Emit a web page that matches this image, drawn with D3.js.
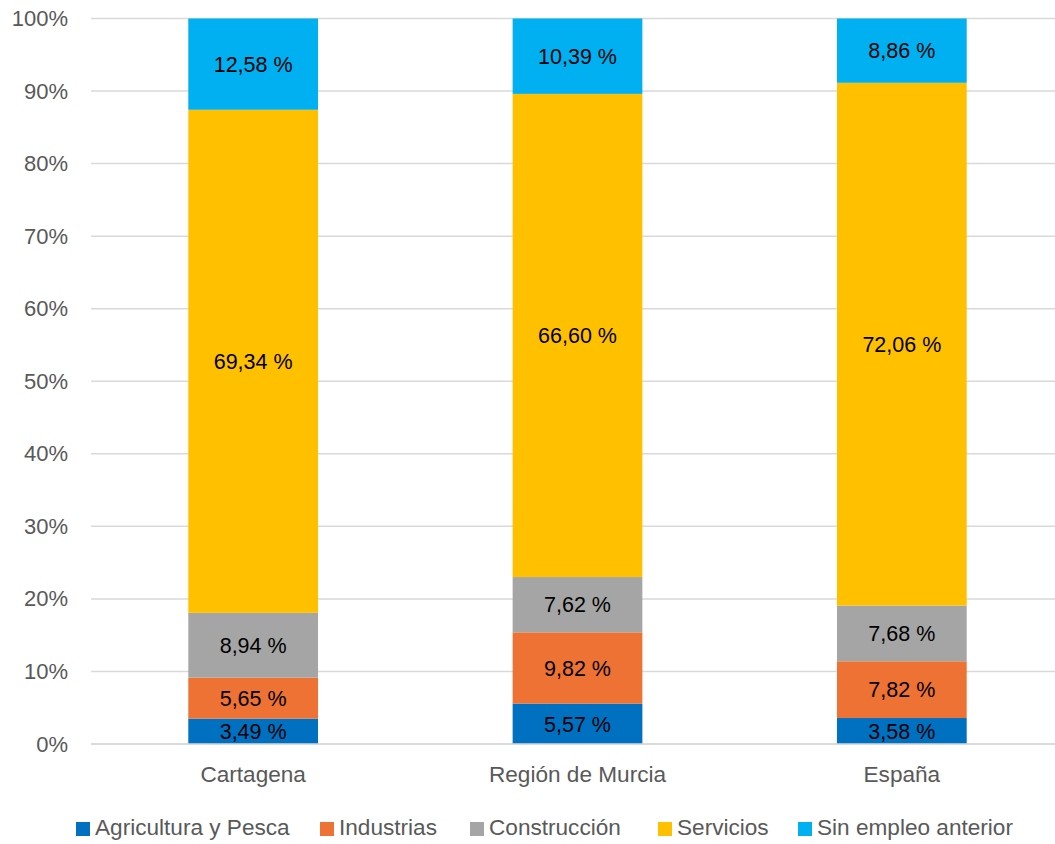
<!DOCTYPE html>
<html><head><meta charset="utf-8">
<script src="https://cdn.jsdelivr.net/npm/d3@7"></script>
<style>body{margin:0;background:#fff}svg{display:block;font-family:"Liberation Sans",Arial,sans-serif}</style>
</head><body><svg id="c" width="1055" height="844"></svg>
<script>
const categories = ["Cartagena", "Región de Murcia", "España"];
const seriesNames = ["Agricultura y Pesca", "Industrias", "Construcción", "Servicios", "Sin empleo anterior"];
const agricultura = [3.49, 5.57, 3.58];
const industrias = [5.65, 9.82, 7.82];
const construccion = [8.94, 7.62, 7.68];
const servicios = [69.34, 66.60, 72.06];
const sinEmpleo = [12.58, 10.39, 8.86];
const colors = ["#0070C0", "#ED7233", "#A5A5A5", "#FFC000", "#00B0F0"];
const yTicks = [0,10,20,30,40,50,60,70,80,90,100];

const values = [agricultura, industrias, construccion, servicios, sinEmpleo];
const rows = categories.map((c,i)=>{const o={cat:c}; seriesNames.forEach((s,j)=>o[s]=values[j][i]); return o;});
const stack = d3.stack().keys(seriesNames)(rows);

const FS = "21.5px";
const FS2 = "22.6px";
const svg = d3.select("#c");
const x = d3.scaleBand().domain(categories).range([91,1064]).paddingInner(0.6).paddingOuter(0.3);
const y = d3.scaleLinear().domain([0,100]).range([744,18.5]);

// gridlines
svg.append("g").selectAll("line").data(yTicks).join("line")
  .attr("x1",91).attr("x2",1055).attr("y1",d=>y(d)).attr("y2",d=>y(d))
  .attr("stroke","#d9d9d9").attr("stroke-width",1.5);

// y axis
const yAxis = d3.axisLeft(y).tickValues(yTicks).tickFormat(d=>d+"%").tickSize(0).tickPadding(0);
const ya = svg.append("g").attr("transform","translate(68,0)").call(yAxis);
ya.select(".domain").remove();
ya.selectAll("text").attr("fill","#595959").style("font-size","22px").style("font-family","inherit");

// bars
const fmt = v => v.toFixed(2).replace(".",",") + " %";
stack.forEach((layer,j)=>{
  const g = svg.append("g");
  g.selectAll("rect").data(layer).join("rect")
    .attr("x",d=>x(d.data.cat)).attr("width",x.bandwidth())
    .attr("y",d=>y(d[1])).attr("height",d=>y(d[0])-y(d[1]))
    .attr("fill",colors[j]);
  g.selectAll("text").data(layer).join("text")
    .attr("x",d=>x(d.data.cat)+x.bandwidth()/2)
    .attr("y",d=>(y(d[0])+y(d[1]))/2)
    .attr("dy","0.36em").attr("text-anchor","middle")
    .attr("fill","#000").style("font-size",FS)
    .text(d=>fmt(d[1]-d[0]));
});

// x axis line
svg.append("line").attr("x1",91).attr("x2",1055).attr("y1",y(0)).attr("y2",y(0)).attr("stroke","#d9d9d9").attr("stroke-width",1.5);
const xAxis = d3.axisBottom(x).tickSize(0).tickPadding(0);
const xa = svg.append("g").attr("transform","translate(0,782)").call(xAxis);
xa.select(".domain").remove();
xa.selectAll("text").attr("fill","#595959").style("font-size",FS2).style("font-family","inherit").attr("dy","0");

// legend
const legX = [76, 320, 470, 658, 798];
const leg = svg.append("g");
seriesNames.forEach((s,j)=>{
  leg.append("rect").attr("x",legX[j]).attr("y",822).attr("width",14).attr("height",14).attr("fill",colors[j]);
  leg.append("text").attr("x",legX[j]+19).attr("y",835).attr("fill","#595959").style("font-size",FS2).text(s);
});
</script></body></html>
